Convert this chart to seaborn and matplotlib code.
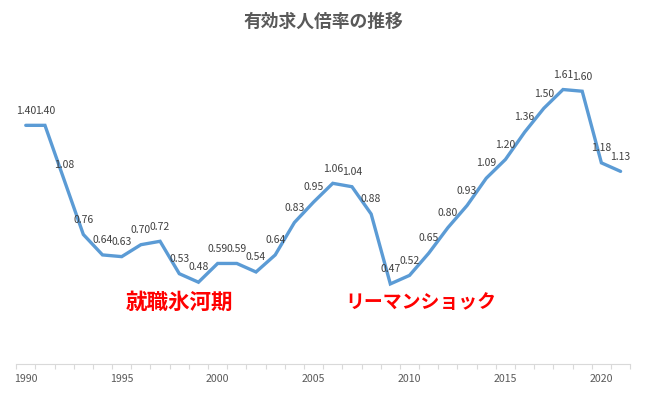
import numpy as np
import pandas as pd
import matplotlib
matplotlib.use("Agg")
import matplotlib.pyplot as plt
from matplotlib.ticker import FixedLocator
import seaborn as sns

# データ: 有効求人倍率（年平均）
years = list(range(1990, 2022))
ratios = [1.40, 1.40, 1.08, 0.76, 0.64, 0.63, 0.70, 0.72, 0.53, 0.48,
          0.59, 0.59, 0.54, 0.64, 0.83, 0.95, 1.06, 1.04, 0.88, 0.47,
          0.52, 0.65, 0.80, 0.93, 1.09, 1.20, 1.36, 1.50, 1.61, 1.60,
          1.18, 1.13]
tick_years = [1990, 1995, 2000, 2005, 2010, 2015, 2020]
note_texts = ["就職氷河期", "リーマンショック"]
note_x = [1998.0, 2010.6]
note_y = [0.36, 0.36]

sns.set_theme(style="white")
plt.rcParams["font.family"] = ["Noto Sans CJK JP", "DejaVu Sans"]

df = pd.DataFrame({"year": years, "ratio": ratios})

fig = plt.figure(figsize=(6.47, 3.94), dpi=100)
ax = fig.add_axes([0.025, 0.076, 0.949, 0.779])

sns.lineplot(data=df, x="year", y="ratio", ax=ax, color="#5B9BD5",
             linewidth=2.4, solid_joinstyle="miter")

# 値ラベル
for y, v in zip(years, ratios):
    ax.annotate(f"{v:.2f}", (y, v), xytext=(0, 7), textcoords="offset points",
                ha="center", va="bottom", fontsize=7.5, color="#404040")

# 注釈（カタカナは幅が狭いので少し小さめ）
note_sizes = [15.5, 13.6]
for text, x, y, fs in zip(note_texts, note_x, note_y, note_sizes):
    ax.text(x, y, text, ha="center", va="center", fontsize=fs,
            fontweight="bold", color="#FF0000")

ax.set_xlim(1989.5, 2021.5)
ax.set_ylim(0, 1.8)
ax.set_xticks(tick_years)
ax.set_xticklabels([str(t) for t in tick_years], fontsize=7.6, color="#595959")
ax.xaxis.set_minor_locator(FixedLocator(np.arange(1989.5, 2022, 1)))
ax.tick_params(axis="x", which="major", length=0, pad=7)
ax.tick_params(axis="x", which="minor", length=3.5, width=0.8,
               color="#D9D9D9", bottom=True)
ax.set_yticks([])
ax.set_xlabel("")
ax.set_ylabel("")
for side in ["left", "right", "top"]:
    ax.spines[side].set_visible(False)
ax.spines["bottom"].set_color("#D9D9D9")
ax.spines["bottom"].set_linewidth(0.8)

fig.text(0.5, 0.944, "有効求人倍率の推移", ha="center", va="center",
         fontsize=12.8, fontweight="bold", color="#595959")

fig.savefig("out.png", dpi=100)
